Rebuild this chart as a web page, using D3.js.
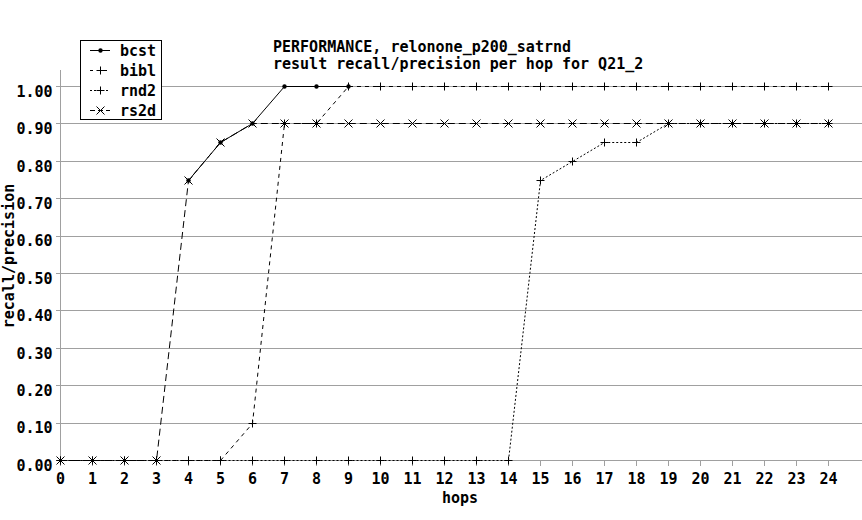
<!DOCTYPE html>
<html>
<head>
<meta charset="utf-8">
<script src="https://cdn.jsdelivr.net/npm/d3@7/dist/d3.min.js"></script>
<style>
  html, body { margin: 0; padding: 0; background: #fff; }
  svg { display: block; }
  text { font-family: "DejaVu Sans Mono", monospace; font-size: 15px; font-weight: bold; fill: #000; }
</style>
</head>
<body>
<svg id="chart" width="862" height="520"></svg>
<script>
// ---- data ----
const titleLines = ["PERFORMANCE, relonone_p200_satrnd", "result recall/precision per hop for Q21_2"];
const hops = [0,1,2,3,4,5,6,7,8,9,10,11,12,13,14,15,16,17,18,19,20,21,22,23,24];
const yTicks = [0.0,0.1,0.2,0.3,0.4,0.5,0.6,0.7,0.8,0.9,1.0];
const seriesNames = ["bcst", "bibl", "rnd2", "rs2d"];
const bcst = [null,null,null,null,0.75,0.85,0.90,1.00,1.00,1.00,null,null,null,null,null,null,null,null,null,null,null,null,null,null,null];
const bibl = [0,0,0,0,0,0,0.10,0.90,0.90,1.00,1.00,1.00,1.00,1.00,1.00,1.00,1.00,1.00,1.00,1.00,1.00,1.00,1.00,1.00,1.00];
const rnd2 = [0,0,0,0,0,0,0,0,0,0,0,0,0,0,0,0.75,0.80,0.85,0.85,0.90,0.90,0.90,0.90,0.90,0.90];
const rs2d = [0,0,0,0,0.75,0.85,0.90,0.90,0.90,0.90,0.90,0.90,0.90,0.90,0.90,0.90,0.90,0.90,0.90,0.90,0.90,0.90,0.90,0.90,0.90];

const svg = d3.select("#chart");
const grey = "#a0a0a0";
const x = d3.scaleLinear().domain([0, 25]).range([60, 860]);
const y = d3.scaleLinear().domain([0, 1]).range([460, 86]);

// grid lines
svg.append("g").selectAll("line").data(yTicks).join("line")
  .attr("x1", 60).attr("x2", 862)
  .attr("y1", d => Math.round(y(d)) + 0.5).attr("y2", d => Math.round(y(d)) + 0.5)
  .attr("stroke", grey).attr("shape-rendering", "crispEdges");

// y axis
const yAxis = svg.append("g").attr("transform", "translate(60.5,0)")
  .call(d3.axisLeft(y).tickValues(yTicks).tickFormat(d3.format(".2f")).tickSize(5).tickPadding(3));
yAxis.select(".domain").remove();
yAxis.append("line").attr("x1", 0).attr("x2", 0).attr("y1", 70).attr("y2", 460.5)
  .attr("stroke", grey).attr("shape-rendering", "crispEdges");
yAxis.selectAll(".tick line").attr("stroke", grey).attr("shape-rendering", "crispEdges");
yAxis.selectAll(".tick text").attr("dy", "0.95em").attr("y", -4)
  .style("font-family", '"DejaVu Sans Mono", monospace').style("font-size", "15px").style("font-weight", "bold").attr("fill", "#000");

// x axis
const xAxis = svg.append("g").attr("transform", "translate(0,460.5)")
  .call(d3.axisBottom(x).tickValues(hops).tickFormat(d3.format("d")).tickSize(5).tickPadding(8));
xAxis.select(".domain").remove();
xAxis.selectAll(".tick line").attr("stroke", grey).attr("shape-rendering", "crispEdges");
xAxis.selectAll(".tick text")
  .style("font-family", '"DejaVu Sans Mono", monospace').style("font-size", "15px").style("font-weight", "bold").attr("fill", "#000");

// axis titles
svg.append("text").attr("x", 460).attr("y", 503).attr("text-anchor", "middle").text("hops");
svg.append("text").attr("transform", "translate(14,256) rotate(-90)").attr("text-anchor", "middle").text("recall/precision");

// title
svg.append("g").selectAll("text").data(titleLines).join("text")
  .attr("x", 273).attr("y", (d, i) => 52 + i * 16.5).text(d => d);

// series
const styles = {
  bcst: { dash: null, marker: "dot" },
  bibl: { dash: "4,4", marker: "plus" },
  rnd2: { dash: "2,2", marker: "plus" },
  rs2d: { dash: "7,4", marker: "cross" }
};
const data = { bcst, bibl, rnd2, rs2d };

function drawMarker(g, type, cx, cy) {
  if (type === "dot") {
    g.append("circle").attr("cx", cx).attr("cy", cy).attr("r", 2.2).attr("fill", "#000");
  } else if (type === "plus") {
    g.append("line").attr("x1", cx - 4).attr("x2", cx + 4).attr("y1", cy).attr("y2", cy).attr("stroke", "#000");
    g.append("line").attr("x1", cx).attr("x2", cx).attr("y1", cy - 4).attr("y2", cy + 4).attr("stroke", "#000");
  } else if (type === "cross") {
    g.append("line").attr("x1", cx - 4).attr("x2", cx + 4).attr("y1", cy - 4).attr("y2", cy + 4).attr("stroke", "#000");
    g.append("line").attr("x1", cx - 4).attr("x2", cx + 4).attr("y1", cy + 4).attr("y2", cy - 4).attr("stroke", "#000");
  }
}

const line = d3.line().defined(d => d.v !== null)
  .x(d => Math.round(x(d.h)) + 0.5).y(d => Math.round(y(d.v)) + 0.5);

seriesNames.slice().reverse().forEach(name => {
  const pts = hops.map((h, i) => ({ h, v: data[name][i] }));
  const g = svg.append("g");
  g.append("path").datum(pts).attr("d", line).attr("fill", "none")
    .attr("stroke", "#000").attr("stroke-width", 1)
    .attr("stroke-dasharray", styles[name].dash);
  pts.filter(d => d.v !== null).forEach(d => {
    drawMarker(g, styles[name].marker, Math.round(x(d.h)) + 0.5, Math.round(y(d.v)) + 0.5);
  });
});

// legend
const lg = svg.append("g");
lg.append("rect").attr("x", 80.5).attr("y", 40.5).attr("width", 81).attr("height", 79)
  .attr("fill", "#fff").attr("stroke", "#000").attr("shape-rendering", "crispEdges");
seriesNames.forEach((name, i) => {
  const ly = 50.5 + i * 20;
  lg.append("line").attr("x1", 90).attr("x2", 110).attr("y1", ly).attr("y2", ly)
    .attr("stroke", "#000").attr("stroke-dasharray", styles[name].dash ? (name === "rs2d" ? "5,3" : (name === "bibl" ? "3,4" : "2,2")) : null);
  drawMarker(lg, styles[name].marker, 100.5, ly);
  lg.append("text").attr("x", 120).attr("y", ly + 5).text(name);
});
</script>
</body>
</html>
